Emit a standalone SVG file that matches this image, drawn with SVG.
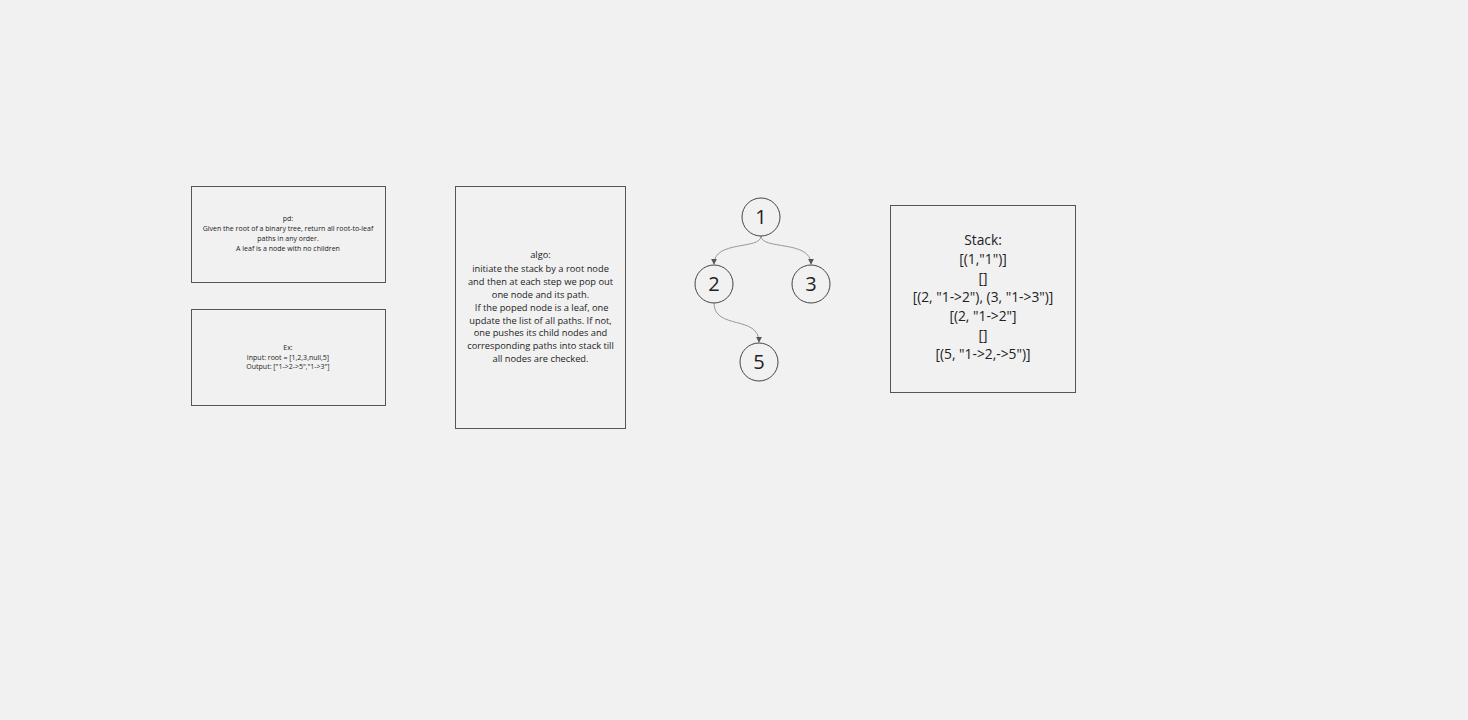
<svg xmlns="http://www.w3.org/2000/svg" width="1468" height="720" viewBox="0 0 1468 720">
<style>
.box{fill:#f1f1f1;stroke:#555;stroke-width:1}
.circ{fill:#f1f1f1;stroke:#444;stroke-width:1}
.t{font-family:"Open Sans","Noto Sans",sans-serif;fill:#222;text-anchor:middle}
.s7{font-size:7px}
.s10{font-size:9.3px}
.s13{font-size:13.8px}
.s20{font-size:20px}
.edge{fill:none;stroke:#999;stroke-width:1}
</style>
<defs>
<marker id="arr" viewBox="0 0 8 8" refX="7" refY="4" markerWidth="6" markerHeight="6" orient="auto" markerUnits="userSpaceOnUse">
<path d="M0,0 L8,4 L0,8 z" fill="#555"/>
</marker>
</defs>
<rect width="1468" height="720" fill="#f1f1f1"/>
<g id="pd">
<rect class="box" x="191.5" y="186.5" width="194" height="96"/>
<text class="t s7"><tspan x="288" y="221">pd:</tspan><tspan x="288" y="231">Given the root of a binary tree, return all root-to-leaf</tspan><tspan x="288" y="241">paths in any order.</tspan><tspan x="288" y="251">A leaf is a node with no children</tspan></text>
</g>
<g id="ex">
<rect class="box" x="191.5" y="309.5" width="194" height="96"/>
<text class="t s7"><tspan x="288" y="350">Ex:</tspan><tspan x="288" y="359.5">Input: root = [1,2,3,null,5]</tspan><tspan x="288" y="369">Output: ["1-&gt;2-&gt;5","1-&gt;3"]</tspan></text>
</g>
<g id="algo">
<rect class="box" x="455.5" y="186.5" width="170" height="242"/>
<text class="t s10"><tspan x="540.5" y="258">algo:</tspan><tspan x="540.5" y="271.5">initiate the stack by a root node</tspan><tspan x="540.5" y="284.5">and then at each step we pop out</tspan><tspan x="540.5" y="297.5">one node and its path.</tspan><tspan x="540.5" y="310.5"> If the poped node is a leaf, one</tspan><tspan x="540.5" y="323.5">update the list of all paths. If not,</tspan><tspan x="540.5" y="336">one pushes its child nodes and</tspan><tspan x="540.5" y="349">corresponding paths into stack till</tspan><tspan x="540.5" y="362">all nodes are checked.</tspan></text>
</g>
<g id="connectors">
<path class="edge" d="M761,236 C761,250 714,240 714,264" marker-end="url(#arr)"/>
<path class="edge" d="M761,236 C761,250 811,240 811,264" marker-end="url(#arr)"/>
<path class="edge" d="M714,303 C714,330 759,315 759,342" marker-end="url(#arr)"/>
</g>
<g id="n1">
<circle class="circ" cx="761" cy="217" r="19"/>
<text class="t s20" x="761" y="224">1</text>
</g>
<g id="n2">
<circle class="circ" cx="714" cy="284" r="19"/>
<text class="t s20" x="714" y="291">2</text>
</g>
<g id="n3">
<circle class="circ" cx="811" cy="284" r="19"/>
<text class="t s20" x="811" y="291">3</text>
</g>
<g id="n5">
<circle class="circ" cx="759" cy="362" r="19"/>
<text class="t s20" x="759" y="369">5</text>
</g>
<g id="stack">
<rect class="box" x="890.5" y="205.5" width="185" height="187"/>
<text class="t s13"><tspan x="983" y="245">Stack:</tspan><tspan x="983" y="264">[(1,"1")]</tspan><tspan x="983" y="283">[]</tspan><tspan x="983" y="302">[(2, "1-&gt;2"), (3, "1-&gt;3")]</tspan><tspan x="983" y="321">[(2, "1-&gt;2"]</tspan><tspan x="983" y="340">[]</tspan><tspan x="983" y="359">[(5, "1-&gt;2,-&gt;5")]</tspan></text>
</g>
</svg>
